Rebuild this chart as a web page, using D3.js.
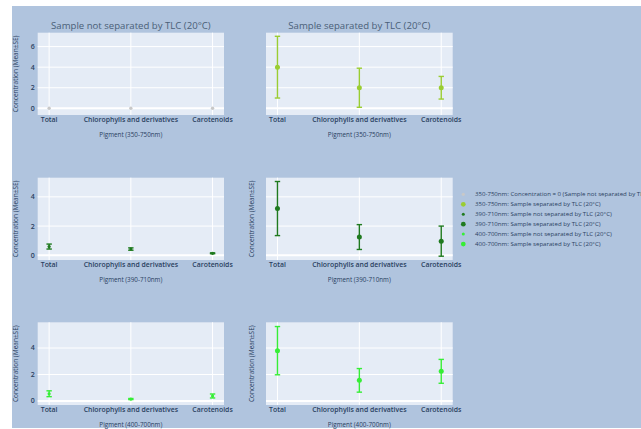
<!DOCTYPE html>
<html>
<head>
<meta charset="utf-8">
<script src="https://cdn.jsdelivr.net/npm/d3@7"></script>
<style>
  body { margin: 0; background: #fff; }
  svg { display: block; }
  text { font-family: "Open Sans", "DejaVu Sans", sans-serif; }
</style>
</head>
<body>
<div id="chart"></div>
<script>
// categories and wavelength ranges
const categories = ["Total", "Chlorophylls and derivatives", "Carotenoids"];
const ranges = ["350-750nm", "390-710nm", "400-700nm"];
const columnTitles = ["Sample not separated by TLC (20°C)", "Sample separated by TLC (20°C)"];

// mean and SE per series
const notSep350Mean = [0, 0, 0];
const notSep350Se = [0, 0, 0];
const sep350Mean = [4.0, 2.0, 2.0];
const sep350Se = [3.0, 1.9, 1.1];
const notSep390Mean = [0.6, 0.43, 0.14];
const notSep390Se = [0.17, 0.08, 0.03];
const sep390Mean = [3.2, 1.25, 0.97];
const sep390Se = [1.85, 0.85, 1.03];
const notSep400Mean = [0.55, 0.15, 0.38];
const notSep400Se = [0.22, 0.04, 0.15];
const sep400Mean = [3.8, 1.56, 2.24];
const sep400Se = [1.82, 0.89, 0.9];

// y ticks and y axis ranges per row
const yTicks = [[0, 2, 4, 6], [0, 2, 4], [0, 2, 4]];
const yRanges = [[-0.65, 7.35], [-0.32, 5.31], [-0.3, 5.94]];

const legendLabels = [
  "350-750nm: Concentration = 0 (Sample not separated by TLC (20°C))",
  "350-750nm: Sample separated by TLC (20°C)",
  "390-710nm: Sample not separated by TLC (20°C)",
  "390-710nm: Sample separated by TLC (20°C)",
  "400-700nm: Sample not separated by TLC (20°C)",
  "400-700nm: Sample separated by TLC (20°C)"
];

const colors = ["#c8c8c8", "#9acd32", "#1f7a1f", "#1f7a1f", "#36ee36", "#36ee36"];
const sizes = [1.7, 2.5, 1.6, 2.5, 1.6, 2.5];

const series = [
  { row: 0, col: 0, mean: notSep350Mean, se: notSep350Se, err: false },
  { row: 0, col: 1, mean: sep350Mean, se: sep350Se, err: true },
  { row: 1, col: 0, mean: notSep390Mean, se: notSep390Se, err: true },
  { row: 1, col: 1, mean: sep390Mean, se: sep390Se, err: true },
  { row: 2, col: 0, mean: notSep400Mean, se: notSep400Se, err: true },
  { row: 2, col: 1, mean: sep400Mean, se: sep400Se, err: true }
];

const W = 641, H = 429;
const colX = [[37.7, 224], [266, 452.7]];
const rowY = [[32.7, 115], [177.7, 260], [322.3, 405]];

const svg = d3.select("#chart").append("svg").attr("width", W).attr("height", H);

// paper
svg.append("rect").attr("x", 12).attr("y", 6).attr("width", W - 12).attr("height", 422)
  .attr("fill", "#b0c4de");

const textColor = "#2a3f5f";

series.forEach((s, i) => {
  const [x0, x1] = colX[s.col];
  const [y0, y1] = rowY[s.row];
  const x = d3.scalePoint().domain(categories).range([x0, x1]).padding(0.14);
  const y = d3.scaleLinear().domain(yRanges[s.row]).range([y1, y0]);
  const g = svg.append("g");

  g.append("rect").attr("x", x0).attr("y", y0).attr("width", x1 - x0).attr("height", y1 - y0)
    .attr("fill", "#e5ecf6");

  // grid
  g.selectAll(".vg").data(categories).join("line")
    .attr("x1", d => x(d)).attr("x2", d => x(d)).attr("y1", y0).attr("y2", y1)
    .attr("stroke", "#fff").attr("stroke-width", 1);
  g.selectAll(".hg").data(yTicks[s.row]).join("line")
    .attr("x1", x0).attr("x2", x1).attr("y1", d => y(d)).attr("y2", d => y(d))
    .attr("stroke", "#fff").attr("stroke-width", d => d === 0 ? 2 : 1);

  // y tick labels only on left column
  if (s.col === 0) {
    g.selectAll(".yt").data(yTicks[s.row]).join("text")
      .attr("x", x0 - 3).attr("y", d => y(d)).attr("dy", "0.35em")
      .attr("text-anchor", "end").attr("font-size", 7).attr("font-weight", 600)
      .attr("fill", textColor).text(d => d);
  }
  // y title (not on top-right panel)
  if (!(s.row === 0 && s.col === 1)) {
    const tx = s.col === 0 ? 16 : 251.7;
    g.append("text")
      .attr("transform", `translate(${tx},${(y0 + y1) / 2}) rotate(-90)`)
      .attr("dy", "0.35em").attr("text-anchor", "middle").attr("font-size", 6.5)
      .attr("fill", textColor).text("Concentration (Mean±SE)");
  }

  // x tick labels
  g.selectAll(".xt").data(categories).join("text")
    .attr("x", d => x(d)).attr("y", y1 + 6.8).attr("text-anchor", "middle")
    .attr("font-size", 6.9).attr("font-weight", 600).attr("fill", textColor)
    .text(d => d);
  g.append("text").attr("x", (x0 + x1) / 2).attr("y", y1 + 22).attr("text-anchor", "middle")
    .attr("font-size", 6.3).attr("fill", textColor).text(`Pigment (${ranges[s.row]})`);

  if (s.row === 0) {
    g.append("text").attr("x", (x0 + x1) / 2).attr("y", 28.5).attr("text-anchor", "middle")
      .attr("font-size", 9.6).attr("fill", "#4a5f78").text(columnTitles[s.col]);
  }

  const pts = categories.map((c, k) => ({ c, m: s.mean[k], e: s.se[k] }));
  if (s.err) {
    const eg = g.selectAll(".eb").data(pts).join("g").attr("stroke", colors[i])
      .attr("stroke-width", 1.4);
    eg.append("line").attr("x1", d => x(d.c)).attr("x2", d => x(d.c))
      .attr("y1", d => y(d.m - d.e)).attr("y2", d => y(d.m + d.e));
    eg.append("line").attr("x1", d => x(d.c) - 2.7).attr("x2", d => x(d.c) + 2.7)
      .attr("y1", d => y(d.m - d.e)).attr("y2", d => y(d.m - d.e));
    eg.append("line").attr("x1", d => x(d.c) - 2.7).attr("x2", d => x(d.c) + 2.7)
      .attr("y1", d => y(d.m + d.e)).attr("y2", d => y(d.m + d.e));
  }
  g.selectAll(".pt").data(pts).join("circle")
    .attr("cx", d => x(d.c)).attr("cy", d => y(d.m)).attr("r", sizes[i])
    .attr("fill", colors[i]);
});

// legend (first entry runs off the right edge, as in the reference)
const lg = svg.append("g").attr("transform", "translate(463.3,194.3)");
const items = lg.selectAll("g").data(legendLabels).join("g")
  .attr("transform", (d, i) => `translate(0,${i * 9.95})`);
items.append("circle").attr("r", (d, i) => sizes[i] * 0.95).attr("fill", (d, i) => colors[i]);
items.append("text").attr("x", 11.7).attr("dy", "0.35em").attr("font-size", 6.1)
  .attr("font-family", "Liberation Sans, Arial, sans-serif").attr("fill", "#2a3f5f")
  .text(d => d);
</script>
</body>
</html>
